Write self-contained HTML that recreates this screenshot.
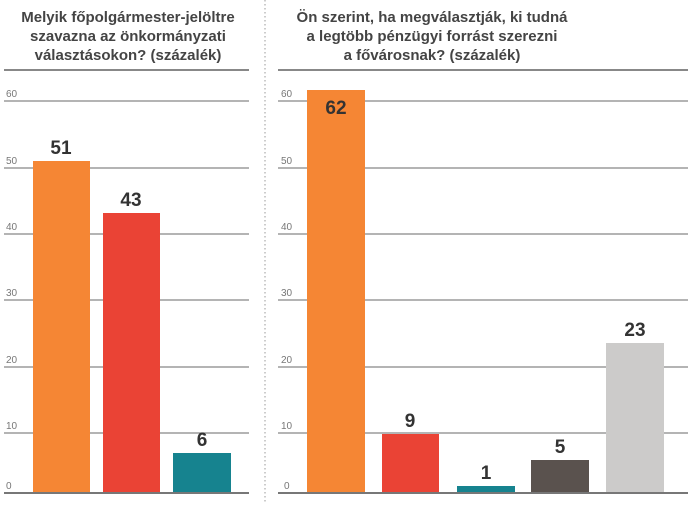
<!DOCTYPE html>
<html><head><meta charset="utf-8"><style>
body{margin:0;background:#fff;width:690px;height:504px;overflow:hidden}
</style></head><body>
<svg width="690" height="504" xmlns="http://www.w3.org/2000/svg" font-family="Liberation Sans, sans-serif">
<g font-weight="bold" font-size="15" fill="#444" text-anchor="middle">
<text x="128" y="22">Melyik főpolgármester-jelöltre</text>
<text x="128" y="41">szavazna az önkormányzati</text>
<text x="128" y="60">választásokon? (százalék)</text>
<text x="432" y="22">Ön szerint, ha megválasztják, ki tudná</text>
<text x="432" y="41">a legtöbb pénzügyi forrást szerezni</text>
<text x="432" y="60">a fővárosnak? (százalék)</text>
</g>
<line x1="265" y1="0" x2="265" y2="504" stroke="#999" stroke-dasharray="1.5,2.5"/>
<g stroke="#888" stroke-width="1.3">
<line x1="4" y1="70" x2="249" y2="70" stroke-width="2"/>
<line x1="278" y1="70" x2="688" y2="70" stroke-width="2"/>
<line x1="4" y1="101" x2="249" y2="101"/><line x1="278" y1="101" x2="688" y2="101"/>
<line x1="4" y1="168" x2="249" y2="168"/><line x1="278" y1="168" x2="688" y2="168"/>
<line x1="4" y1="234" x2="249" y2="234"/><line x1="278" y1="234" x2="688" y2="234"/>
<line x1="4" y1="300" x2="249" y2="300"/><line x1="278" y1="300" x2="688" y2="300"/>
<line x1="4" y1="367" x2="249" y2="367"/><line x1="278" y1="367" x2="688" y2="367"/>
<line x1="4" y1="433" x2="249" y2="433"/><line x1="278" y1="433" x2="688" y2="433"/>
</g>
<g font-size="10" fill="#777">
<text x="6" y="97">60</text><text x="281" y="97">60</text>
<text x="6" y="164">50</text><text x="281" y="164">50</text>
<text x="6" y="230">40</text><text x="281" y="230">40</text>
<text x="6" y="296">30</text><text x="281" y="296">30</text>
<text x="6" y="363">20</text><text x="281" y="363">20</text>
<text x="6" y="429">10</text><text x="281" y="429">10</text>
<text x="6" y="489">0</text><text x="284" y="489">0</text>
</g>
<rect x="33" y="161" width="57" height="332" fill="#f58634"/>
<rect x="103" y="213" width="57" height="280" fill="#ea4335"/>
<rect x="173" y="453" width="58" height="40" fill="#16838f"/>
<rect x="307" y="90" width="58" height="403" fill="#f58634"/>
<rect x="382" y="434" width="57" height="59" fill="#ea4335"/>
<rect x="457" y="486" width="58" height="7" fill="#16838f"/>
<rect x="531" y="460" width="58" height="33" fill="#5a524e"/>
<rect x="606" y="343" width="58" height="150" fill="#cccbca"/>
<line x1="4" y1="493" x2="249" y2="493" stroke="#777" stroke-width="2"/>
<line x1="278" y1="493" x2="688" y2="493" stroke="#777" stroke-width="2"/>
<g font-weight="bold" font-size="19" fill="#333" text-anchor="middle">
<text x="61" y="154">51</text>
<text x="131" y="206">43</text>
<text x="202" y="446">6</text>
<text x="336" y="114">62</text>
<text x="410" y="427">9</text>
<text x="486" y="479">1</text>
<text x="560" y="453">5</text>
<text x="635" y="336">23</text>
</g>
</svg>
</body></html>
